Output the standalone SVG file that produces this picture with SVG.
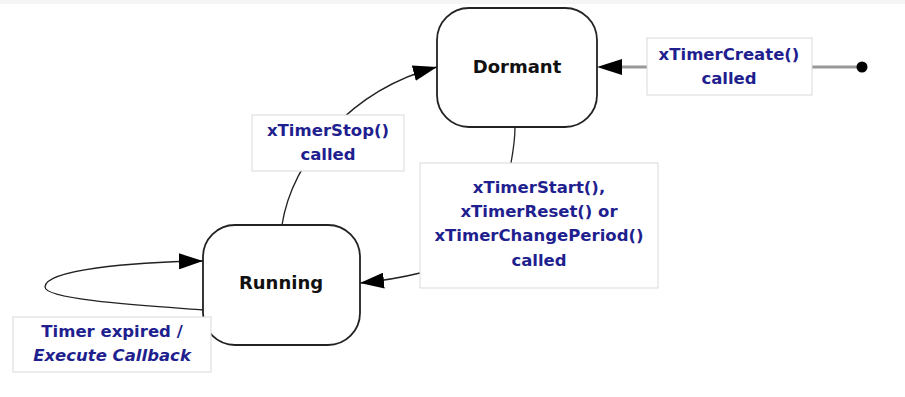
<svg xmlns="http://www.w3.org/2000/svg" width="905" height="397" viewBox="0 0 905 397">
<style>
.state{fill:#fff;stroke:#222;stroke-width:1.8}
.st{font-family:"DejaVu Sans",Verdana,sans-serif;font-weight:bold;font-size:18px;fill:#111;text-anchor:middle}
.lbox{fill:#fff;stroke:#d9d9d9;stroke-width:1}
.lt{font-family:"DejaVu Sans",Verdana,sans-serif;font-weight:bold;font-size:16.5px;fill:#1f1f8f;text-anchor:middle}
.edge{fill:none;stroke:#222;stroke-width:1.3}
.gedge{fill:none;stroke:#999;stroke-width:3}
</style>
<defs>
<marker id="ah" markerWidth="24" markerHeight="16" refX="24" refY="8" orient="auto" markerUnits="userSpaceOnUse">
<path d="M0,0 L24,8 L0,16 Z" fill="#000"/>
</marker>
</defs>
<rect x="0" y="0" width="905" height="397" fill="#fff"/>
<rect x="0" y="0" width="905" height="4" fill="#f5f5f5"/>
<g id="connectors">
<path class="gedge" d="M862,67 L812,67"/>
<path class="gedge" d="M647,67 L620,67"/>
<path d="M597,67 L622,59 L622,75 Z" fill="#000"/>
<path class="edge" d="M282,225 C292,160 350,90 437,67" marker-end="url(#ah)"/>
<path class="edge" d="M515,127 C515,140 513,152 511,163"/>
<path class="edge" d="M420,273 C400,278 380,281 360,283" marker-end="url(#ah)"/>
<path class="edge" d="M203,310 C150,306 45,300 45,287 C45,270 130,262 203,261" marker-end="url(#ah)"/>
<circle cx="862" cy="67" r="5.5" fill="#000"/>
</g>
<g id="dormant">
<rect class="state" x="437" y="8" width="160" height="119" rx="32" ry="32"/>
<text class="st" x="517" y="73">Dormant</text>
</g>
<g id="running">
<rect class="state" x="203" y="225" width="157" height="120" rx="32" ry="32"/>
<text class="st" x="281" y="289">Running</text>
</g>
<g id="label-create">
<rect class="lbox" x="647" y="38" width="165" height="57"/>
<text class="lt" x="729" y="60">xTimerCreate()</text>
<text class="lt" x="729" y="84">called</text>
</g>
<g id="label-stop">
<rect class="lbox" x="252" y="115" width="152" height="56"/>
<text class="lt" x="328" y="136">xTimerStop()</text>
<text class="lt" x="328" y="160">called</text>
</g>
<g id="label-start">
<rect class="lbox" x="420" y="163" width="238" height="125"/>
<text class="lt" x="539" y="193">xTimerStart(),</text>
<text class="lt" x="539" y="217">xTimerReset() or</text>
<text class="lt" x="539" y="241">xTimerChangePeriod()</text>
<text class="lt" x="539" y="266">called</text>
</g>
<g id="label-expired">
<rect class="lbox" x="13" y="317" width="198" height="55"/>
<text class="lt" x="112" y="337">Timer expired /</text>
<text class="lt" x="112" y="361" font-style="italic">Execute Callback</text>
</g>
</svg>
